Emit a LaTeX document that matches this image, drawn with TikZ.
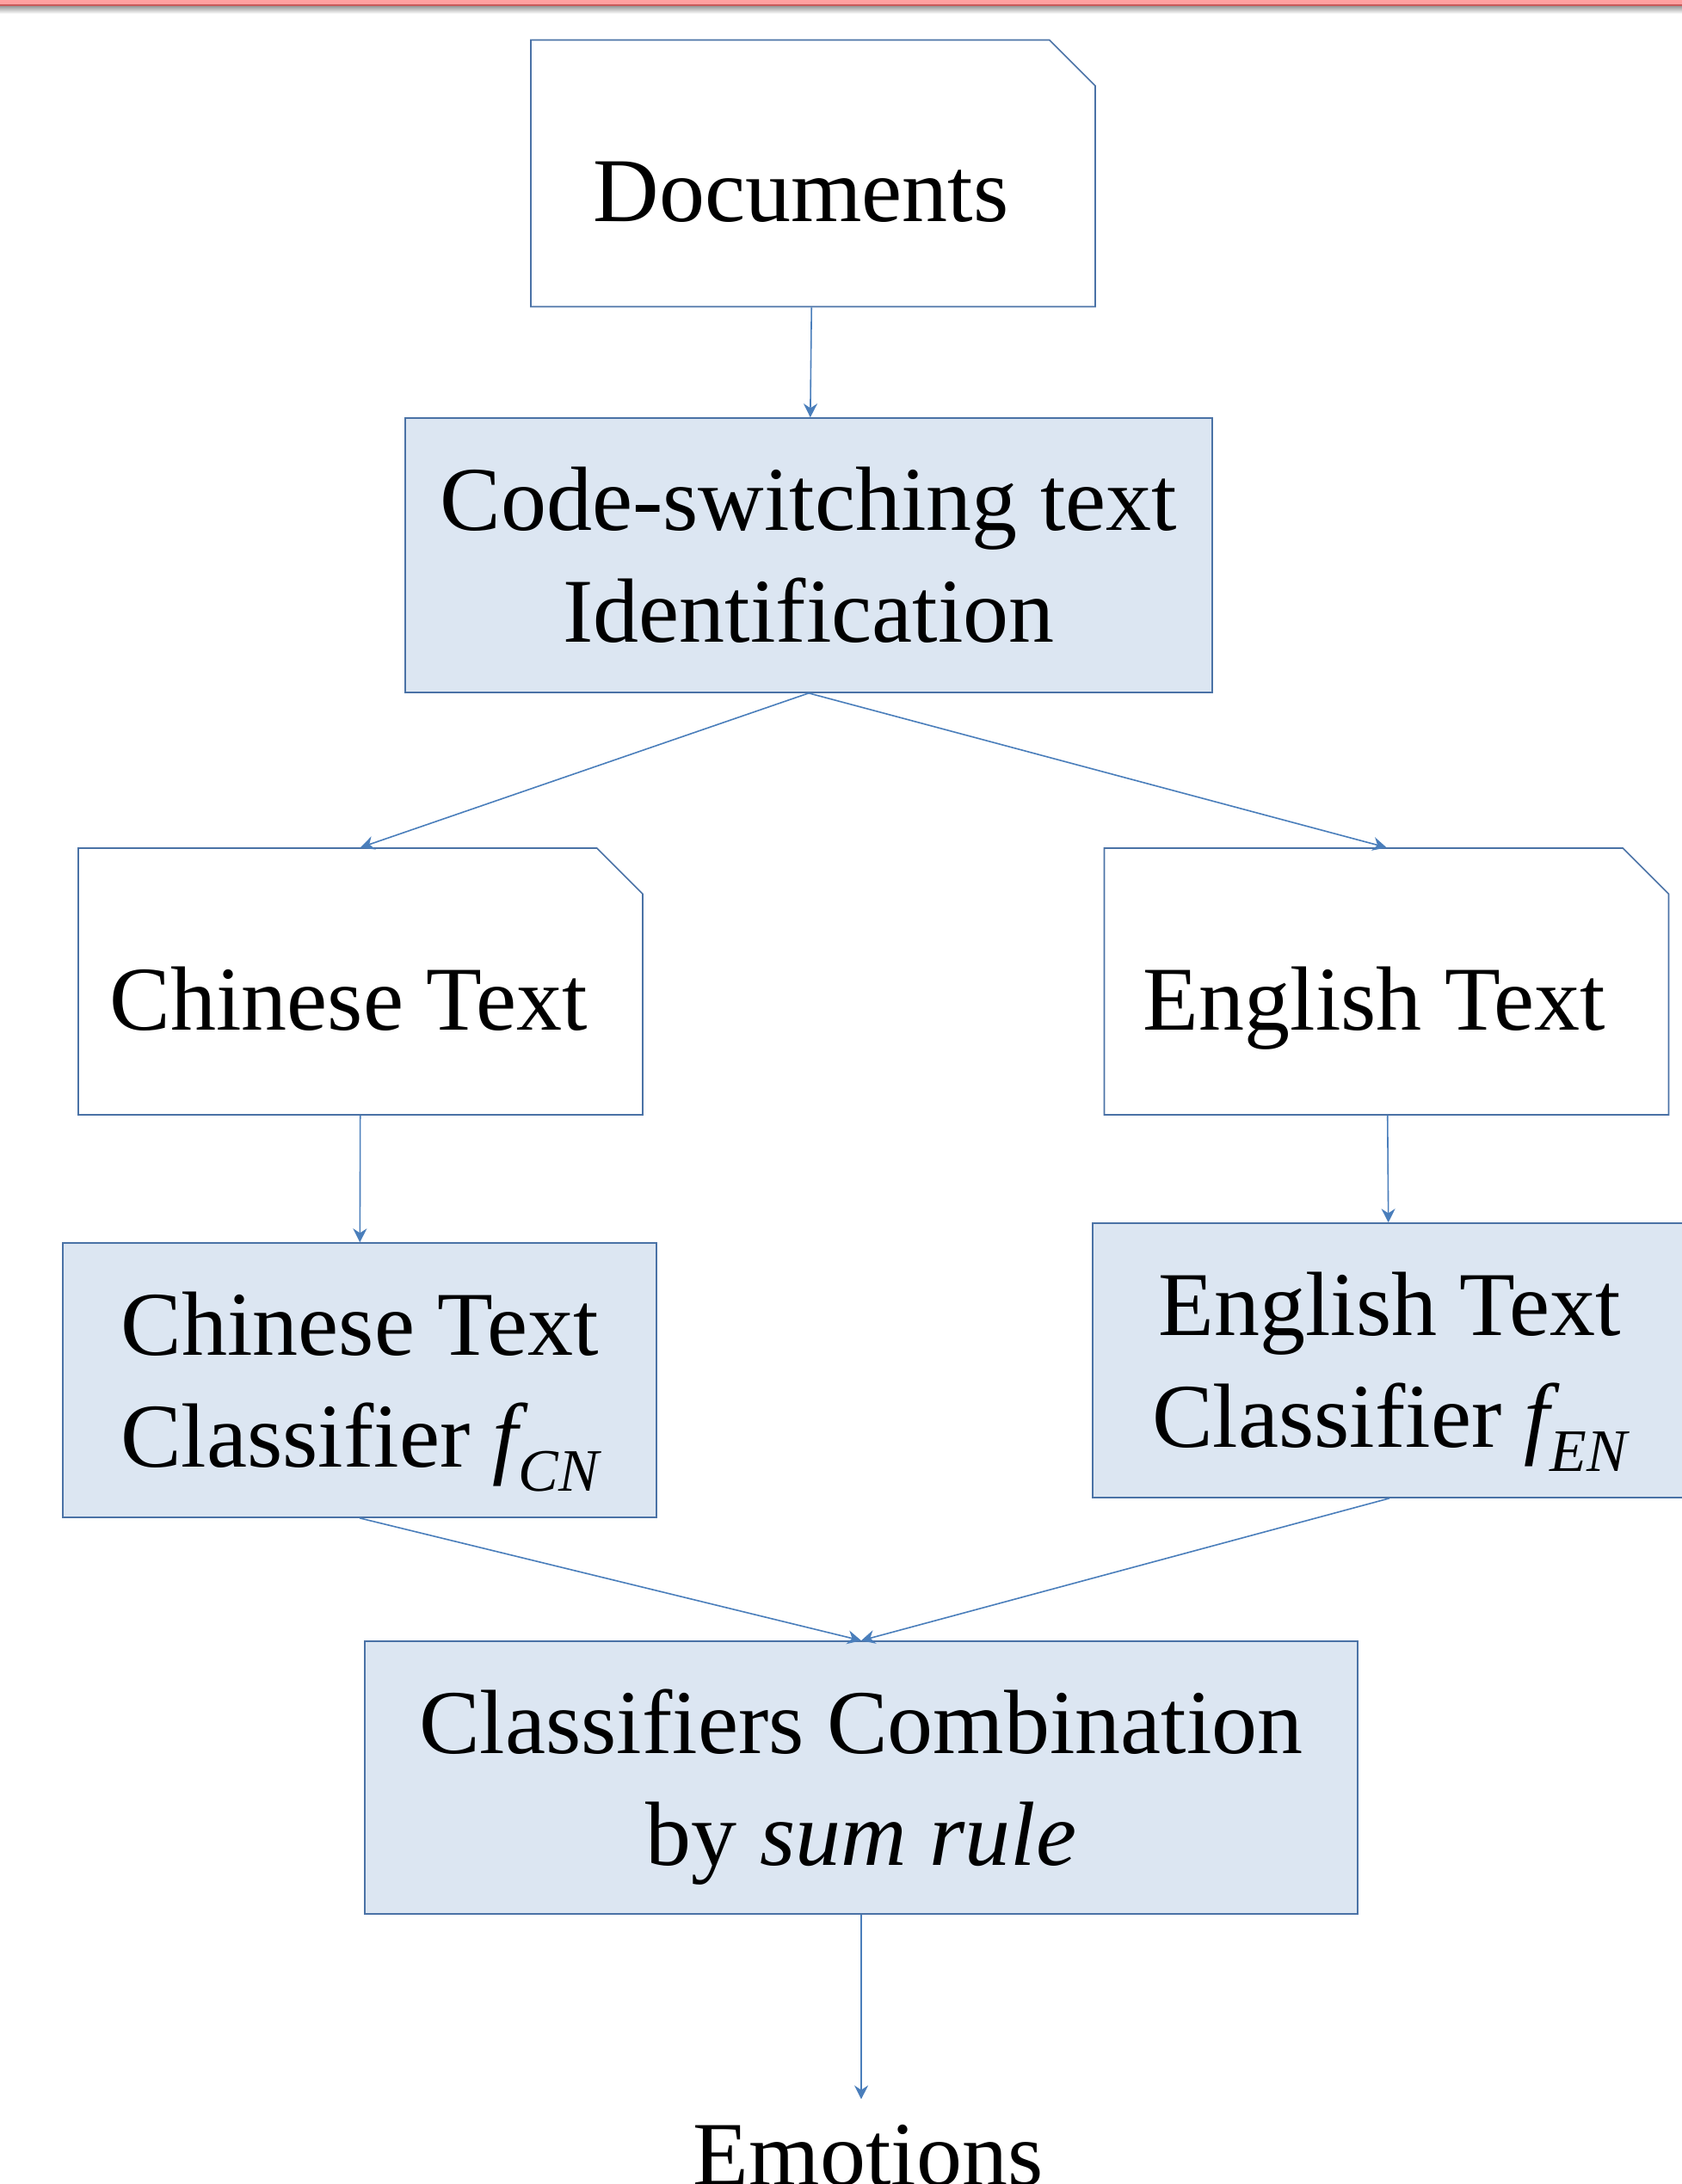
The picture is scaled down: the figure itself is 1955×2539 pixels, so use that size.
\documentclass[tikz,border=0pt]{standalone}
\usepackage{fontspec}
\setmainfont{Liberation Serif}
\usetikzlibrary{shapes.misc,arrows.meta}
\definecolor{boxfill}{HTML}{DCE6F2}
\definecolor{boxline}{HTML}{4A72A6}
\definecolor{arrowline}{HTML}{4A7EBB}
\definecolor{bandpink}{HTML}{FFA0A0}
\definecolor{bandred}{HTML}{C85A5A}
\newcommand{\clfname}[1]{\raisebox{0pt}[\height][0pt]{\itshape f}\raisebox{-14pt}[0pt][0pt]{\fontsize{35}{40}\selectfont\itshape #1}}

\begin{document}
\begin{tikzpicture}[x=0.5pt,y=-0.5pt]
\tikzstyle{every node}=[font=\fontsize{53}{65}\selectfont]
\tikzstyle{stepbox}=[rectangle,align=center,draw=boxline,fill=boxfill,line width=0.8pt,inner sep=0pt]
\tikzstyle{docbox}=[chamfered rectangle,chamfered rectangle corners=north east,chamfered rectangle xsep=13.6pt,chamfered rectangle ysep=13pt,draw=boxline,fill=white,line width=0.8pt,inner sep=0pt,minimum width=328pt,minimum height=155pt,text height=64pt,text depth=8pt,execute at begin node=\hspace*{-14pt}]
\tikzstyle{link}=[draw=arrowline,line width=0.8pt,-{Stealth[length=8pt,width=8pt]}]
\useasboundingbox (0,0) rectangle (1955,2539);
\fill[bandpink] (0,0) rectangle (1955,5);
\fill[bandred] (0,5) rectangle (1955,7);
\shade[top color=black!40,bottom color=white] (0,7) rectangle (1955,16);
\node[docbox] (docs) at (945,201.5) {Documents};
\node[stepbox,minimum width=469pt,minimum height=159.5pt] (ident) at (940,645.5) {Code-switching text\\Identification};
\node[docbox] (cntext) at (419,1141) {Chinese Text};
\node[docbox] (entext) at (1611.5,1141) {English Text};
\node[stepbox,minimum width=345pt,minimum height=159.5pt] (cnclf) at (418,1604.5) {Chinese Text\\Classifier \clfname{CN}};
\node[stepbox,minimum width=345pt,minimum height=159.5pt] (enclf) at (1615,1581.5) {English Text\\Classifier \clfname{EN}};
\node[stepbox,minimum width=577pt,minimum height=158.5pt] (comb) at (1001,2066.5) {Classifiers Combination\\\raisebox{0pt}[\height][0pt]{by \textit{sum rule}}};
\node[inner xsep=0pt,inner ysep=14.5pt,anchor=base] (emo) at (1009,2540) {Emotions};
\draw[link] (docs) -- (ident);
\draw[link] (ident.south) -- (cntext.north);
\draw[link] (ident.south) -- (entext.north);
\draw[link] (cntext) -- (cnclf);
\draw[link] (entext) -- (enclf);
\draw[link] (cnclf.south) -- (comb.north);
\draw[link] (enclf.south) -- (comb.north);
\draw[link] (comb.south) -- (comb.south |- emo.north);
\end{tikzpicture}
\end{document}
